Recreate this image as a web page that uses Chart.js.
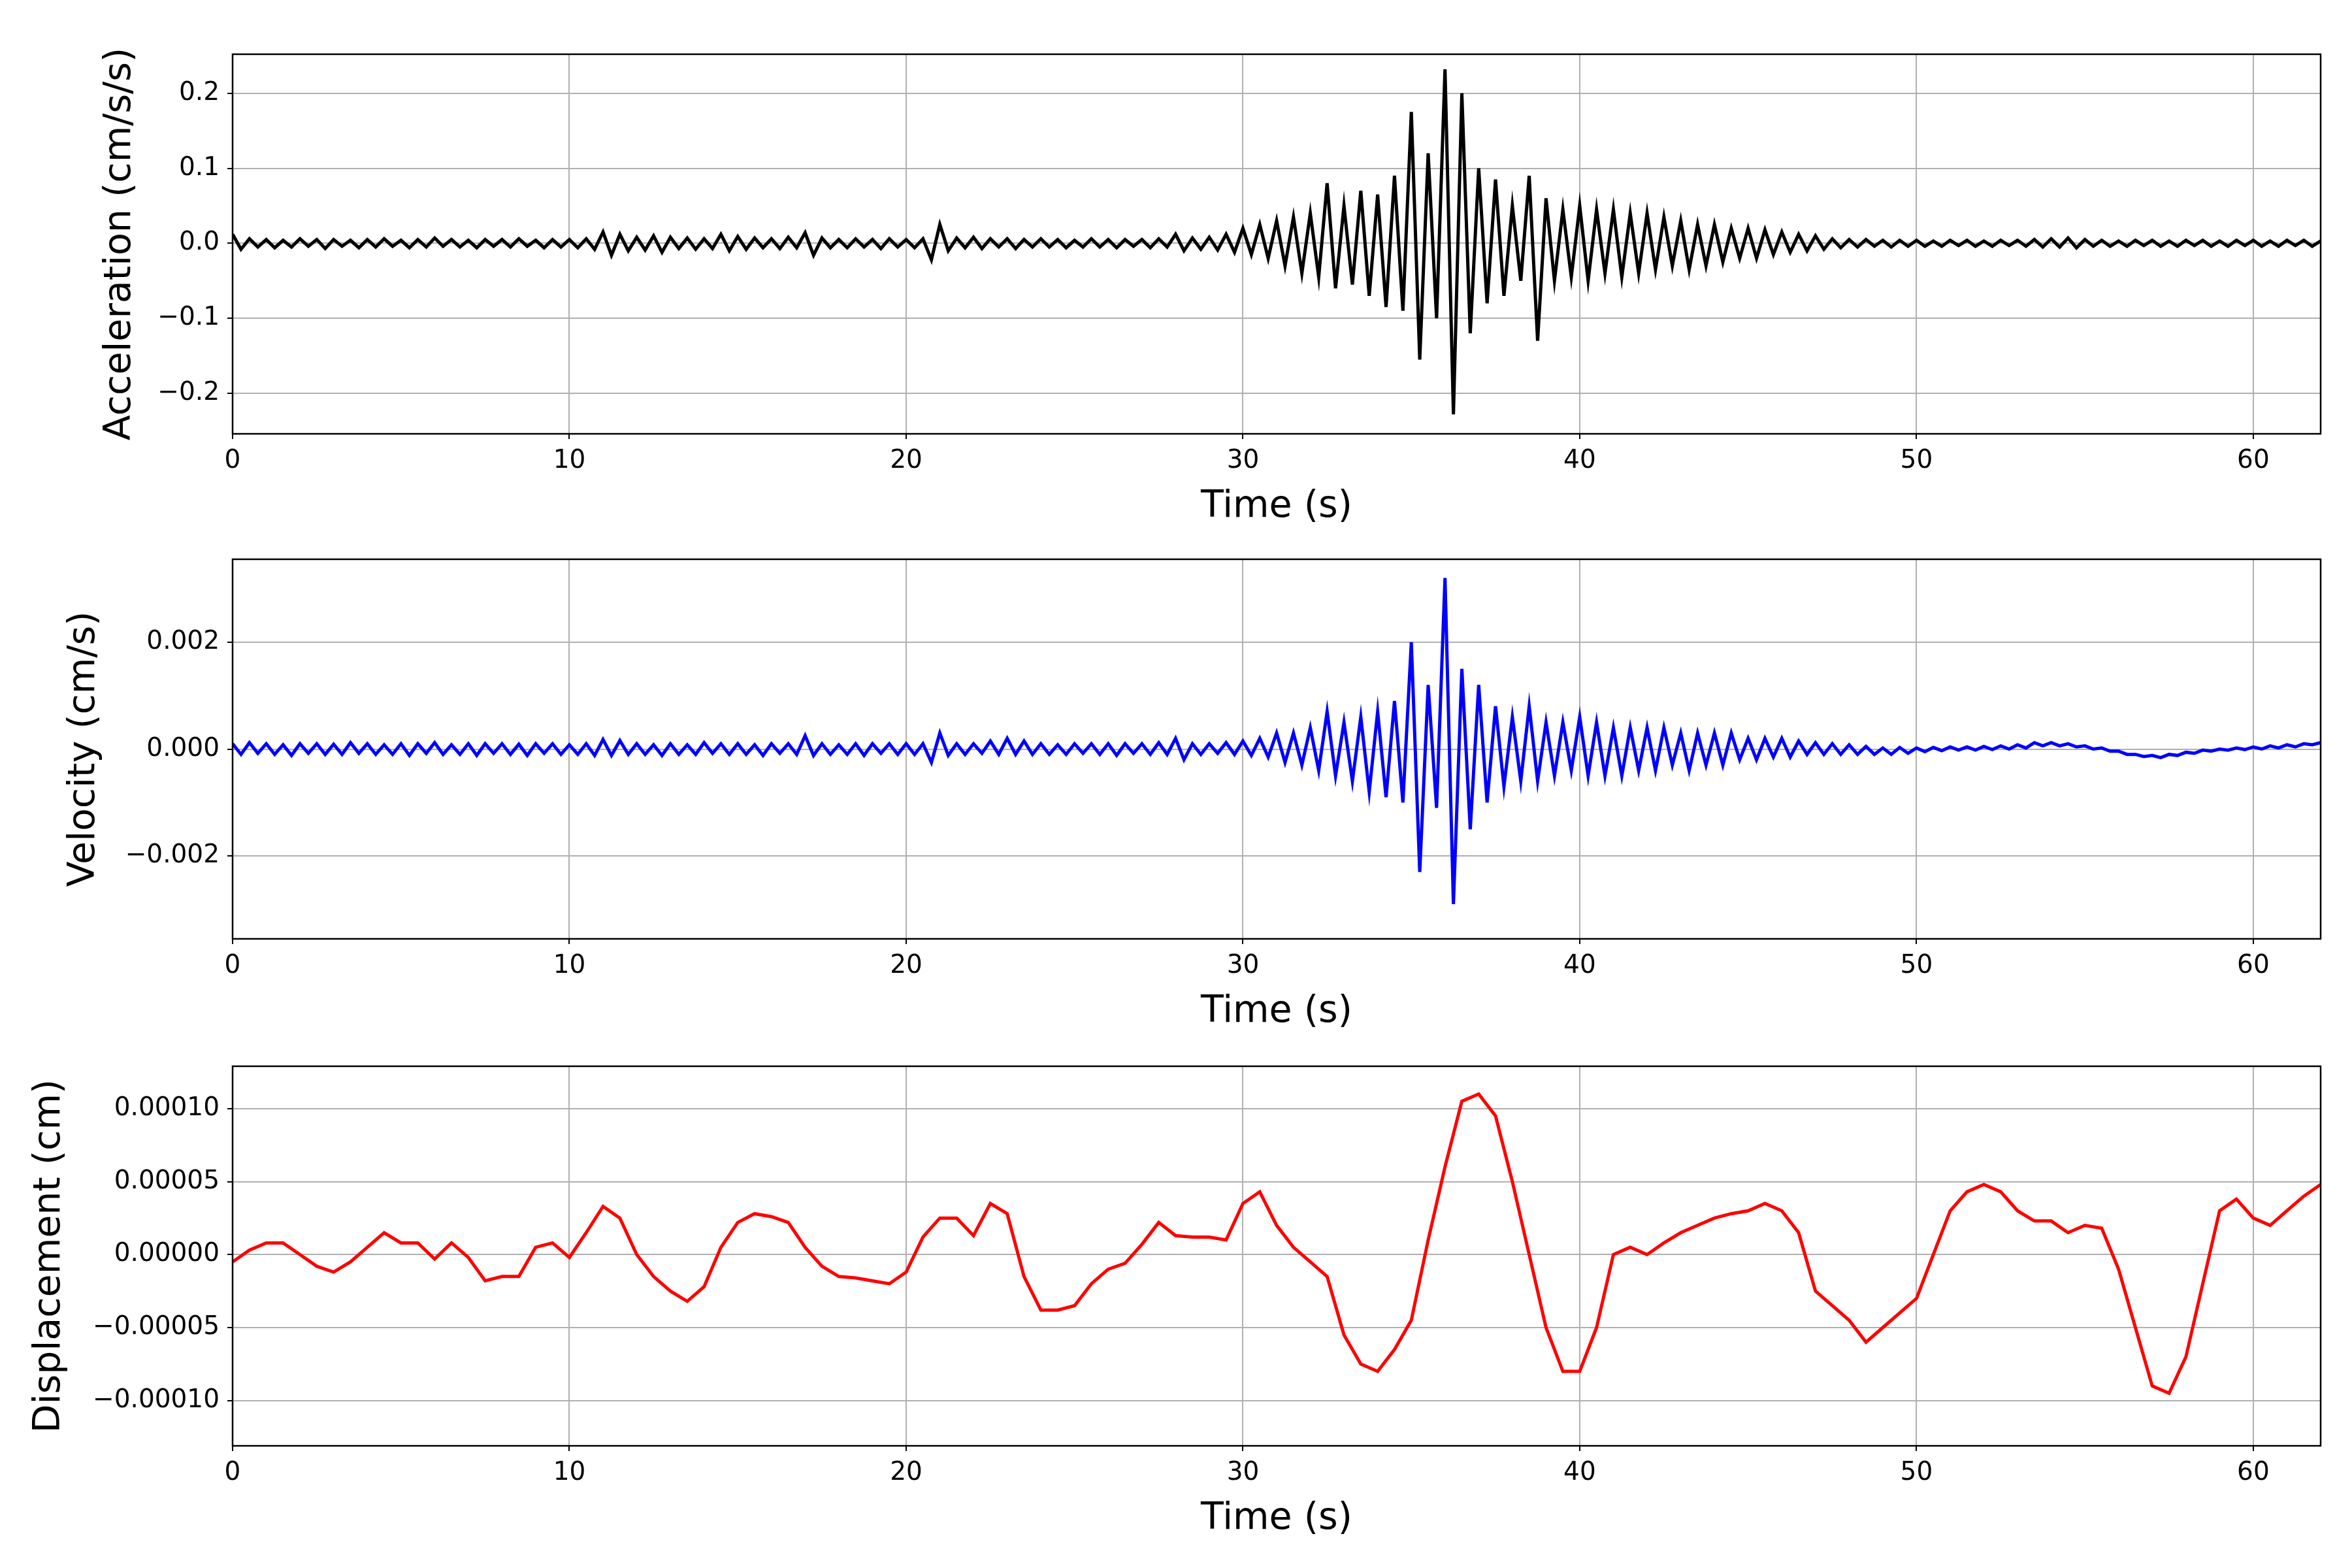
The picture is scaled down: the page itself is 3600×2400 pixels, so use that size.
<!DOCTYPE html>
<html><head><meta charset="utf-8">
<script src="https://cdn.jsdelivr.net/npm/chart.js@4/dist/chart.umd.min.js"></script>
<style>body{margin:0;background:#fff;width:3600px;height:2400px;position:relative;overflow:hidden}
canvas{position:absolute;left:0}</style></head><body>
<canvas id="c1" width="3600" height="814" style="top:0"></canvas>
<canvas id="c2" width="3600" height="814" style="top:773px"></canvas>
<canvas id="c3" width="3600" height="814" style="top:1549px"></canvas>
<script>
const xTicks=[0,10,20,30,40,50,60];
const accStep=0.25, velStep=0.25, dispStep=0.5;
const accTicks=[-0.2,-0.1,0,0.1,0.2];
const velTicks=[-0.002,0,0.002];
const dispTicks=[-0.0001,-0.00005,0,0.00005,0.0001];
const acceleration=[0.012,-0.008,0.006,-0.005,0.005,-0.006,0.004,-0.005,0.006,-0.004,0.005,-0.007,0.005,-0.004,0.004,-0.006,0.005,-0.005,0.006,-0.004,0.004,-0.006,0.005,-0.005,0.007,-0.004,0.005,-0.005,0.004,-0.006,0.005,-0.004,0.005,-0.005,0.006,-0.004,0.004,-0.006,0.005,-0.005,
0.005,-0.006,0.006,-0.008,0.015,-0.016,0.012,-0.01,0.008,-0.009,0.01,-0.012,0.008,-0.007,0.007,-0.008,0.006,-0.007,0.012,-0.01,0.009,-0.008,0.007,-0.006,0.006,-0.007,0.008,-0.006,0.014,-0.016,0.007,-0.006,0.005,-0.006,0.006,-0.005,0.005,-0.007,0.006,-0.005,
0.005,-0.006,0.006,-0.022,0.025,-0.01,0.007,-0.006,0.008,-0.007,0.006,-0.005,0.006,-0.007,0.005,-0.005,0.006,-0.005,0.005,-0.006,0.004,-0.005,0.006,-0.005,0.005,-0.006,0.005,-0.004,0.005,-0.006,0.006,-0.005,0.012,-0.01,0.007,-0.008,0.008,-0.009,0.012,-0.012,
0.02,-0.015,0.025,-0.02,0.03,-0.03,0.035,-0.04,0.04,-0.045,0.08,-0.06,0.05,-0.055,0.07,-0.07,0.065,-0.085,0.09,-0.09,0.175,-0.155,0.12,-0.1,0.232,-0.228,0.2,-0.12,0.1,-0.08,0.085,-0.07,0.05,-0.05,0.09,-0.13,0.06,-0.05,0.045,-0.045,
0.05,-0.05,0.045,-0.04,0.045,-0.045,0.04,-0.04,0.04,-0.035,0.035,-0.03,0.03,-0.035,0.025,-0.03,0.025,-0.025,0.02,-0.02,0.02,-0.02,0.018,-0.015,0.015,-0.012,0.012,-0.01,0.01,-0.008,0.006,-0.006,0.005,-0.005,0.005,-0.004,0.004,-0.005,0.004,-0.004,
0.004,-0.004,0.003,-0.004,0.004,-0.003,0.004,-0.004,0.003,-0.004,0.004,-0.003,0.004,-0.004,0.005,-0.005,0.006,-0.005,0.007,-0.006,0.005,-0.004,0.004,-0.004,0.003,-0.004,0.004,-0.003,0.004,-0.004,0.003,-0.004,0.004,-0.003,0.004,-0.004,0.003,-0.004,0.004,-0.003,0.004,-0.004,0.003,-0.004,0.004,-0.003,0.004,-0.004,0.003];
const velocity=[0.0001,-0.0001,0.00012,-0.00008,0.0001,-0.0001,0.00008,-0.00012,0.0001,-0.00008,0.0001,-0.0001,0.00009,-0.0001,0.00012,-0.00008,0.0001,-0.0001,0.00008,-0.0001,0.0001,-0.00012,0.0001,-0.00008,0.00012,-0.0001,0.00008,-0.0001,0.0001,-0.00012,0.0001,-0.00008,0.0001,-0.0001,0.00009,-0.00012,0.0001,-0.00008,0.0001,-0.0001,
0.00008,-0.0001,0.0001,-0.00012,0.00018,-0.00012,0.00016,-0.0001,0.0001,-0.0001,0.00008,-0.00012,0.0001,-0.0001,0.00008,-0.0001,0.00012,-0.00008,0.0001,-0.0001,0.0001,-0.0001,0.00008,-0.00012,0.0001,-0.00008,0.0001,-0.0001,0.00025,-0.00012,0.0001,-0.0001,0.00008,-0.0001,0.0001,-0.00012,0.0001,-0.00008,0.0001,-0.0001,
0.0001,-0.0001,0.0001,-0.00025,0.0003,-0.00012,0.0001,-0.0001,0.0001,-0.00008,0.00015,-0.0001,0.0002,-0.0001,0.00015,-0.0001,0.0001,-0.0001,0.00008,-0.0001,0.0001,-0.00008,0.0001,-0.0001,0.0001,-0.00012,0.0001,-0.00008,0.0001,-0.0001,0.00012,-0.0001,0.0002,-0.0002,0.0001,-0.0001,0.0001,-0.00008,0.00012,-0.0001,
0.00015,-0.00012,0.0002,-0.00015,0.0003,-0.00025,0.0003,-0.0003,0.0004,-0.0004,0.0007,-0.0005,0.0005,-0.0006,0.0006,-0.0008,0.0007,-0.0009,0.0009,-0.001,0.002,-0.0023,0.0012,-0.0011,0.0032,-0.0029,0.0015,-0.0015,0.0012,-0.001,0.0008,-0.0007,0.0006,-0.0006,0.0008,-0.0006,0.0005,-0.0005,0.0005,-0.0004,
0.0006,-0.0005,0.0005,-0.0005,0.0004,-0.0005,0.0004,-0.0004,0.0004,-0.0004,0.0004,-0.0003,0.0003,-0.0004,0.0003,-0.0003,0.0003,-0.0003,0.0003,-0.0002,0.0002,-0.0002,0.0002,-0.00015,0.0002,-0.00015,0.00015,-0.0001,0.00012,-0.0001,0.0001,-0.0001,0.00008,-0.0001,0.00005,-0.0001,0.00002,-0.0001,0.00003,-0.00008,
0.00002,-0.00005,0.00003,-0.00003,0.00004,-0.00002,0.00004,-0.00002,0.00005,-0.00001,0.00006,0,0.00008,0.00002,0.00012,0.00006,0.00012,0.00006,0.0001,0.00004,0.00006,0,0.00002,-0.00004,-0.00004,-0.0001,-0.0001,-0.00014,-0.00012,-0.00016,-0.0001,-0.00012,-0.00006,-0.00008,-0.00002,-0.00004,0,-0.00002,0.00002,-0.00001,0.00004,0,0.00006,0.00002,0.00008,0.00004,0.0001,0.00008,0.00012];
const displacement=[-0.000005,0.000003,0.000008,0.000008,0,-0.000008,-0.000012,-0.000005,0.000005,0.000015,0.000008,0.000008,-0.000003,0.000008,-0.000002,-0.000018,-0.000015,-0.000015,0.000005,0.000008,
-0.000002,0.000015,0.000033,0.000025,0,-0.000015,-0.000025,-0.000032,-0.000022,0.000005,0.000022,0.000028,0.000026,0.000022,0.000005,-0.000008,-0.000015,-0.000016,-0.000018,-0.00002,
-0.000012,0.000012,0.000025,0.000025,0.000013,0.000035,0.000028,-0.000015,-0.000038,-0.000038,-0.000035,-0.00002,-0.00001,-0.000006,0.000007,0.000022,0.000013,0.000012,0.000012,0.00001,
0.000035,0.000043,0.00002,0.000005,-0.000005,-0.000015,-0.000055,-0.000075,-0.00008,-0.000065,-0.000045,0.00001,0.00006,0.000105,0.00011,0.000095,0.00005,0,-0.00005,-0.00008,
-0.00008,-0.00005,0,0.000005,0,0.000008,0.000015,0.00002,0.000025,0.000028,0.00003,0.000035,0.00003,0.000015,-0.000025,-0.000035,-0.000045,-0.00006,-0.00005,-0.00004,
-0.00003,0,0.00003,0.000043,0.000048,0.000043,0.00003,0.000023,0.000023,0.000015,0.00002,0.000018,-0.00001,-0.00005,-0.00009,-0.000095,-0.00007,-0.00002,0.00003,0.000038,
0.000025,0.00002,0.00003,0.00004,0.000048];

const font='DejaVu Sans';
const boxPlugin={id:'box',afterDraw(c){const a=c.chartArea,x=c.ctx;x.save();x.strokeStyle='#000';x.lineWidth=2.5;x.strokeRect(a.left,a.top,a.right-a.left,a.bottom-a.top);x.restore();}};
function fmt(v,d){const s=Math.abs(v).toFixed(d);return (v<0?'\u2212':'')+s;}
function make(id,vals,step,color,ymin,ymax,yt,dec,ytitle,padL){
  const pts=vals.map((v,i)=>({x:i*step,y:v}));
  new Chart(document.getElementById(id),{type:'line',
    data:{datasets:[{data:pts,borderColor:color,borderWidth:5,pointRadius:0,tension:0}]},
    plugins:[boxPlugin],
    options:{responsive:false,animation:false,devicePixelRatio:1,
      layout:{padding:{top:83,right:48,left:padL,bottom:0}},
      plugins:{legend:{display:false},tooltip:{enabled:false}},
      scales:{
        x:{type:'linear',min:0,max:62,
          afterBuildTicks:s=>{s.ticks=xTicks.map(v=>({value:v}));},
          afterFit:s=>{s.height=150;},
          grid:{color:'#b0b0b0',lineWidth:2,tickLength:8,tickColor:'#000',tickWidth:2},
          border:{display:false},
          ticks:{color:'#000',font:{family:font,size:39},padding:10,maxRotation:0,callback:v=>String(v)},
          title:{display:true,text:'Time (s)',color:'#000',font:{family:font,size:57},padding:{top:8,bottom:4}}},
        y:{type:'linear',min:ymin,max:ymax,
          afterBuildTicks:s=>{s.ticks=yt.map(v=>({value:v}));},
          afterFit:s=>{s.width=356-padL;},
          grid:{color:'#b0b0b0',lineWidth:2,tickLength:8,tickColor:'#000',tickWidth:2},
          border:{display:false},
          ticks:{color:'#000',font:{family:font,size:39},padding:12,callback:v=>fmt(v,dec)},
          title:{display:true,text:ytitle,color:'#000',font:{family:font,size:57},padding:{bottom:4}}}
      }}});
}
make('c1',acceleration,accStep,'#000000',-0.254,0.252,accTicks,1,'Acceleration (cm/s/s)',146);
make('c2',velocity,velStep,'#0000ff',-0.00355,0.00355,velTicks,3,'Velocity (cm/s)',91);
make('c3',displacement,dispStep,'#ff0000',-0.000131,0.000129,dispTicks,5,'Displacement (cm)',38);
</script></body></html>
